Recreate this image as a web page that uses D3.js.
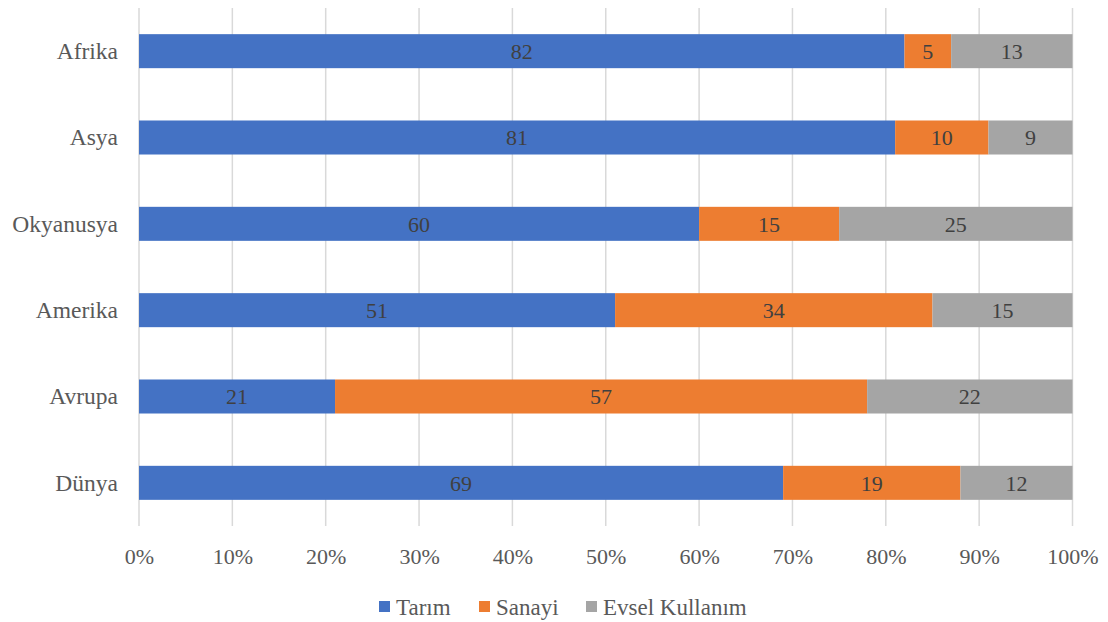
<!DOCTYPE html>
<html>
<head>
<meta charset="utf-8">
<script src="https://cdn.jsdelivr.net/npm/d3@7"></script>
<style>
  html, body { margin: 0; padding: 0; background: #fff; }
  svg { display: block; font-family: "Liberation Serif", "Times New Roman", serif; }
</style>
</head>
<body>
<svg id="chart" width="1108" height="622"></svg>
<script>
// Water use by sector per region (%)
const regions = ["Afrika", "Asya", "Okyanusya", "Amerika", "Avrupa", "Dünya"];
const tarim   = [82, 81, 60, 51, 21, 69];
const sanayi  = [5, 10, 15, 34, 57, 19];
const evsel   = [13, 9, 25, 15, 22, 12];
const seriesNames = ["Tarım", "Sanayi", "Evsel Kullanım"];
const seriesColors = ["#4472C4", "#ED7D31", "#A5A5A5"];
const xTicks = [0, 0.1, 0.2, 0.3, 0.4, 0.5, 0.6, 0.7, 0.8, 0.9, 1];

const svg = d3.select("#chart");
const plot = { left: 139, right: 1072.5, top: 8, bottom: 526 };

const rows = regions.map((r, i) => ({ region: r, "Tarım": tarim[i], "Sanayi": sanayi[i], "Evsel Kullanım": evsel[i] }));
const stacked = d3.stack().keys(seriesNames).offset(d3.stackOffsetExpand)(rows);

const x = d3.scaleLinear().domain([0, 1]).range([plot.left, plot.right]);
const y = d3.scaleBand().domain(regions).range([plot.top, plot.bottom]).paddingInner(0.606).paddingOuter(0.303);

// vertical gridlines
svg.append("g").selectAll("line").data(xTicks).join("line")
  .attr("x1", d => x(d)).attr("x2", d => x(d))
  .attr("y1", plot.top).attr("y2", plot.bottom)
  .attr("stroke", "#d9d9d9").attr("stroke-width", 1.5);

// bars
const layer = svg.append("g").selectAll("g").data(stacked).join("g")
  .attr("fill", (d, i) => seriesColors[i]);
layer.selectAll("rect").data(d => d.map(p => ({ p, key: d.key }))).join("rect")
  .attr("x", d => x(d.p[0]))
  .attr("width", d => x(d.p[1]) - x(d.p[0]))
  .attr("y", d => y(d.p.data.region))
  .attr("height", y.bandwidth());

// value labels
layer.selectAll("text").data(d => d.map(p => ({ p, key: d.key }))).join("text")
  .attr("x", d => (x(d.p[0]) + x(d.p[1])) / 2)
  .attr("y", d => y(d.p.data.region) + y.bandwidth() / 2)
  .attr("dy", "0.35em")
  .attr("text-anchor", "middle")
  .attr("fill", "#404040")
  .attr("font-size", 22)
  .text(d => d.p.data[d.key]);

// category axis
const yAxis = svg.append("g").attr("transform", `translate(${plot.left},0)`)
  .call(d3.axisLeft(y).tickSize(0).tickPadding(21));
yAxis.select(".domain").remove();
yAxis.selectAll("text")
  .attr("font-family", "Liberation Serif, serif")
  .attr("font-size", 23.5).attr("fill", "#595959").attr("dy", "0.33em");

// percentage axis
const xAxis = svg.append("g").attr("transform", `translate(0,${plot.bottom})`)
  .call(d3.axisBottom(x).tickValues(xTicks).tickFormat(d3.format(".0%")).tickSize(0).tickPadding(22));
xAxis.select(".domain").remove();
xAxis.selectAll("text")
  .attr("font-family", "Liberation Serif, serif")
  .attr("font-size", 22).attr("fill", "#595959");

// legend
const legendX = [379, 479, 586];
const legend = svg.append("g").selectAll("g").data(seriesNames).join("g")
  .attr("transform", (d, i) => `translate(${legendX[i]},601)`);
legend.append("rect").attr("width", 11).attr("height", 11).attr("fill", (d, i) => seriesColors[i]);
legend.append("text").attr("x", 17).attr("y", 13.5)
  .attr("font-size", 23).attr("fill", "#595959").text(d => d);
</script>
</body>
</html>
